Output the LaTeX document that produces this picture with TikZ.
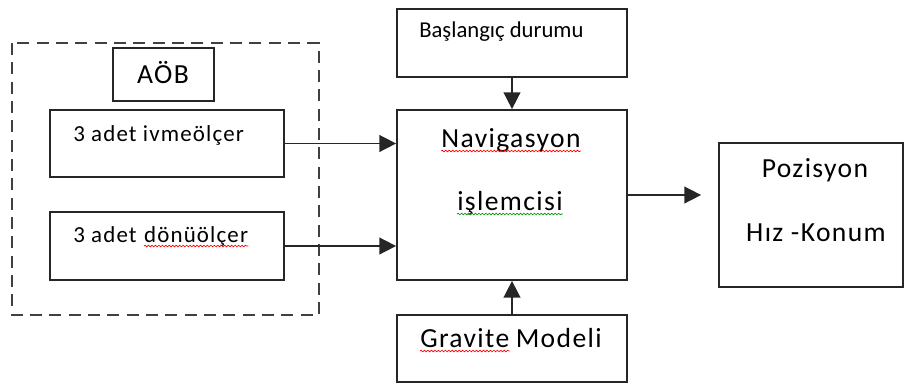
\documentclass[tikz,border=0pt]{standalone}
\usepackage{fontspec}
\setmainfont{Carlito}[LetterSpace=5]
\usetikzlibrary{arrows.meta, positioning, calc, decorations.pathmorphing}

\begin{document}
\begin{tikzpicture}[
    x=0.75pt, y=-0.75pt,
    >={Triangle[length=12.5pt, width=12.5pt]},
    box/.style={draw=black!85, line width=1.3pt, inner sep=0pt},
    big/.style={font=\fontsize{20.7}{24}\selectfont, inner sep=0pt},
    mid/.style={font=\fontsize{17.2}{20}\selectfont, inner sep=0pt},
    link/.style={->, line width=1.2pt, draw=black!85},
    wave/.style={decorate, decoration={snake, amplitude=0.6pt, segment length=2.6pt},
                 line width=0.5pt}
  ]
  \useasboundingbox (0,0) rectangle (904,383);

  % AOB group
  \draw[line width=1.5pt, dash pattern=on 9pt off 5.5pt, black!75] (12,43) rectangle (319,315);
  \node[box, minimum width=75.75pt, minimum height=39.75pt] (aob) at (163.5,74.5) {};
  \node[big, anchor=base] (aobtxt) at (163,83) {AÖB};
  \node[box, minimum width=175.5pt, minimum height=50.25pt] (ivme) at (167,143.5) {};
  \node[mid, anchor=base west] (ivmetxt) at (73,141) {3 adet ivmeölçer};
  \node[box, minimum width=175.5pt, minimum height=51pt] (donu) at (167,246) {};
  \node[mid, anchor=base west] (donutxt) at (73,242) {3 adet};
  \node[mid, anchor=base west] (donuword) at ($(donutxt.base east)+(7,0)$) {dönüölçer};
  \draw[wave, red] ([yshift=-3pt]donuword.base west) -- ([yshift=-3pt]donuword.base east);

  % center column
  \node[box, minimum width=172.5pt, minimum height=51pt] (basl) at (512,43) {};
  \node[font=\fontsize{17}{20}\selectfont\addfontfeature{LetterSpace=0}, inner sep=0pt,
        anchor=base west] (basltxt) at (419,37) {Başlangıç durumu};
  \node[box, minimum width=172.5pt, minimum height=127.5pt] (nav) at (512,195) {};
  \node[big, anchor=base] (navtxt) at (511,147) {Navigasyon};
  \draw[wave, red] ([yshift=-3pt]navtxt.base west) -- ([yshift=-3pt]navtxt.base east);
  \node[big, anchor=base] (isltxt) at (510,210) {işlemcisi};
  \draw[wave, green!60!black] ([yshift=-3pt]isltxt.base west) -- ([yshift=-3pt]isltxt.base east);
  \node[box, minimum width=172.5pt, minimum height=50.25pt] (grav) at (512,348.5) {};
  \node[big, anchor=base west] (gravtxt) at (420,347) {Gravite};
  \node[big, anchor=base west] (gravword) at ($(gravtxt.base east)+(6,0)$) {Modeli};
  \draw[wave, red] ([yshift=-3pt]gravtxt.base west) -- ([yshift=-3pt]gravtxt.base east);

  % output
  \node[box, minimum width=138pt, minimum height=108pt] (poz) at (811,215) {};
  \node[big, anchor=base] (poztxt) at (815,177) {Pozisyon};
  \node[big, anchor=base] (hiztxt) at (816,241) {Hız -Konum};

  % connectors
  \draw[link] (ivme) -- (ivme -| nav.west);
  \draw[link] (donu) -- (donu -| nav.west);
  \draw[link] (basl) -- (nav);
  \draw[link] (grav) -- (nav);
  \draw[link, shorten >=12.75pt] (nav) -- (nav -| poz.west);
\end{tikzpicture}
\end{document}
